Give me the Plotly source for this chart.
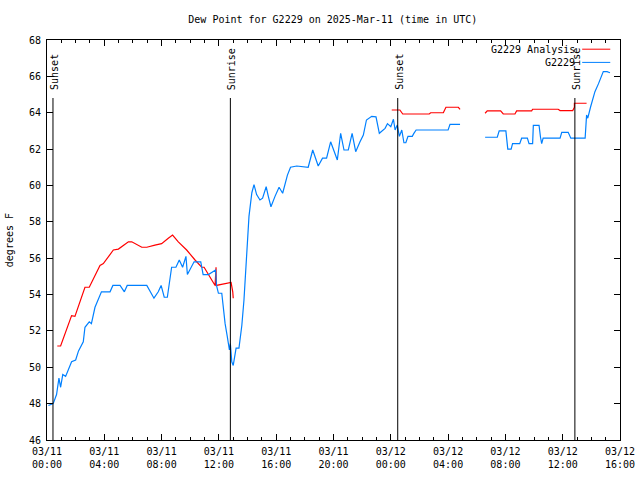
import plotly.graph_objects as go

# ---------------- data ----------------
obs_time = [
    "2025-03-11 00:06", "2025-03-11 00:26", "2025-03-11 00:40", "2025-03-11 00:50", "2025-03-11 00:57",
    "2025-03-11 01:06", "2025-03-11 01:18", "2025-03-11 01:43", "2025-03-11 02:00", "2025-03-11 02:12",
    "2025-03-11 02:32", "2025-03-11 02:39", "2025-03-11 02:57", "2025-03-11 03:06", "2025-03-11 03:21",
    "2025-03-11 03:48", "2025-03-11 04:24", "2025-03-11 04:36", "2025-03-11 05:06", "2025-03-11 05:24",
    "2025-03-11 05:36", "2025-03-11 06:58", "2025-03-11 07:28", "2025-03-11 07:46", "2025-03-11 07:58",
    "2025-03-11 08:11", "2025-03-11 08:24", "2025-03-11 08:42", "2025-03-11 09:00", "2025-03-11 09:14",
    "2025-03-11 09:28", "2025-03-11 09:42", "2025-03-11 09:48", "2025-03-11 10:16", "2025-03-11 10:44",
    "2025-03-11 10:54", "2025-03-11 11:16", "2025-03-11 11:30", "2025-03-11 11:46", "2025-03-11 11:50",
    "2025-03-11 11:58", "2025-03-11 12:12", "2025-03-11 12:18", "2025-03-11 12:26", "2025-03-11 12:35",
    "2025-03-11 12:44", "2025-03-11 12:48", "2025-03-11 12:54", "2025-03-11 13:00", "2025-03-11 13:12",
    "2025-03-11 13:24", "2025-03-11 13:36", "2025-03-11 13:45", "2025-03-11 13:56", "2025-03-11 14:06",
    "2025-03-11 14:18", "2025-03-11 14:27", "2025-03-11 14:38", "2025-03-11 14:52", "2025-03-11 15:03",
    "2025-03-11 15:18", "2025-03-11 15:27", "2025-03-11 15:38", "2025-03-11 15:55", "2025-03-11 16:12",
    "2025-03-11 16:27", "2025-03-11 16:47", "2025-03-11 17:00", "2025-03-11 17:26", "2025-03-11 18:14",
    "2025-03-11 18:33", "2025-03-11 18:56", "2025-03-11 19:14", "2025-03-11 19:31", "2025-03-11 19:48",
    "2025-03-11 20:16", "2025-03-11 20:30", "2025-03-11 20:44", "2025-03-11 21:02", "2025-03-11 21:18",
    "2025-03-11 21:33", "2025-03-11 21:51", "2025-03-11 22:05", "2025-03-11 22:18", "2025-03-11 22:40",
    "2025-03-11 22:58", "2025-03-11 23:12", "2025-03-11 23:36", "2025-03-11 23:46", "2025-03-12 00:00",
    "2025-03-12 00:11", "2025-03-12 00:18", "2025-03-12 00:27", "2025-03-12 00:36", "2025-03-12 00:46",
    "2025-03-12 00:55", "2025-03-12 01:03", "2025-03-12 01:12", "2025-03-12 01:30", "2025-03-12 01:36",
    "2025-03-12 01:46", "2025-03-12 04:00", "2025-03-12 04:08", "2025-03-12 04:50", "2025-03-12 05:40",
    "2025-03-12 06:35", "2025-03-12 07:26", "2025-03-12 07:34", "2025-03-12 08:02", "2025-03-12 08:10",
    "2025-03-12 08:24", "2025-03-12 08:30", "2025-03-12 09:00", "2025-03-12 09:08", "2025-03-12 09:32",
    "2025-03-12 09:39", "2025-03-12 09:54", "2025-03-12 09:57", "2025-03-12 10:21", "2025-03-12 10:27",
    "2025-03-12 10:32", "2025-03-12 10:38", "2025-03-12 11:49", "2025-03-12 11:56", "2025-03-12 12:23",
    "2025-03-12 12:34", "2025-03-12 13:34", "2025-03-12 13:40", "2025-03-12 13:45", "2025-03-12 13:57",
    "2025-03-12 14:15", "2025-03-12 14:30", "2025-03-12 14:50", "2025-03-12 15:06", "2025-03-12 15:18",
]
obs_dewpt = [
    47.9, 48.0, 48.5, 49.4, 48.9,
    49.6, 49.5, 50.3, 50.4, 50.9,
    51.4, 52.2, 52.5, 52.4, 53.3,
    54.15, 54.15, 54.5, 54.5, 54.15,
    54.5, 54.5, 53.8, 54.15, 54.5,
    53.85, 53.85, 55.5, 55.5, 55.9,
    55.5, 56.1, 55.1, 55.8, 55.8,
    55.1, 55.1, 55.2, 55.35, 54.5,
    54.07, 54.07, 53.3, 52.4, 51.7,
    50.95, 51.3, 50.3, 50.1, 51.05,
    51.05, 52.3, 53.7, 56.3, 58.3,
    59.6, 60.05, 59.5, 59.2, 59.3,
    59.93, 59.4, 58.83, 59.4, 59.9,
    59.57, 60.57, 61.0, 61.07, 61.0,
    61.95, 61.07, 61.5, 61.5, 62.4,
    61.4, 62.87, 61.95, 61.95, 62.87,
    61.86, 62.4, 62.77, 63.6, 63.8,
    63.77, 62.87, 63.14, 63.4, 63.23,
    63.64, 63.05, 63.32, 62.7, 63.05,
    62.35, 62.35, 62.7, 62.7, 62.85,
    63.05, 63.05, 63.36, 63.36, None,
    62.65, 62.65, 63.0, 63.0, 62.0,
    62.0, 62.3, 62.3, 62.6, 62.6,
    62.3, 62.3, 63.3, 63.3, 62.65,
    62.3, 62.6, 62.6, 62.92, 62.92,
    62.6, 62.6, 63.87, 63.7, 64.33,
    65.16, 65.6, 66.26, 66.26, 66.2,
]

ana_time = [
    "2025-03-11 00:43", "2025-03-11 00:57", "2025-03-11 01:43", "2025-03-11 01:57", "2025-03-11 02:39",
    "2025-03-11 02:57", "2025-03-11 03:42", "2025-03-11 03:56", "2025-03-11 04:38", "2025-03-11 04:59",
    "2025-03-11 05:41", "2025-03-11 05:55", "2025-03-11 06:37", "2025-03-11 06:58", "2025-03-11 07:32",
    "2025-03-11 08:00", "2025-03-11 08:28", "2025-03-11 08:46", "2025-03-11 09:10", "2025-03-11 09:45",
    "2025-03-11 10:20", "2025-03-11 10:48", "2025-03-11 10:58", "2025-03-11 11:16", "2025-03-11 11:30",
    "2025-03-11 11:44", "2025-03-11 11:48", "2025-03-11 11:49", "2025-03-11 12:05", "2025-03-11 12:30",
    "2025-03-11 12:44", "2025-03-11 12:51", "2025-03-11 12:58", "2025-03-11 13:00", "2025-03-11 18:00",
    "2025-03-12 00:04", "2025-03-12 00:38", "2025-03-12 00:50", "2025-03-12 02:41", "2025-03-12 02:47",
    "2025-03-12 03:40", "2025-03-12 03:51", "2025-03-12 04:43", "2025-03-12 04:50", "2025-03-12 05:40",
    "2025-03-12 06:35", "2025-03-12 06:44", "2025-03-12 07:40", "2025-03-12 07:51", "2025-03-12 08:40",
    "2025-03-12 08:47", "2025-03-12 09:50", "2025-03-12 09:54", "2025-03-12 11:41", "2025-03-12 11:49",
    "2025-03-12 12:42", "2025-03-12 12:49", "2025-03-12 12:49", "2025-03-12 13:40",
]
ana_dewpt = [
    51.17, 51.17, 52.84, 52.8, 54.4,
    54.4, 55.6, 55.7, 56.45, 56.5,
    56.9, 56.9, 56.6, 56.6, 56.72,
    56.8, 57.1, 57.27, 56.9, 56.45,
    55.9, 55.5, 55.5, 55.07, 54.8,
    54.5, 55.5, 54.5, 54.55, 54.6,
    54.67, 54.67, 54.15, 53.8, None,
    64.15, 64.15, 63.93, 63.93, 64.0,
    64.0, 64.3, 64.3, 64.19, None,
    63.97, 64.1, 64.1, 63.93, 63.93,
    64.1, 64.1, 64.19, 64.19, 64.12,
    64.12, 64.3, 64.52, 64.52,
]

sun_times = ["2025-03-11 00:25", "2025-03-11 12:48", "2025-03-12 00:29", "2025-03-12 12:51"]
sun_labels = ["Sunset", "Sunrise", "Sunset", "Sunrise"]

series_names = ["G2229 Analysis", "G2229"]
series_colors = ["#ff0000", "#0080ff"]

title_text = "Dew Point for G2229 on 2025-Mar-11 (time in UTC)"
y_label = "degrees F"
x_range = ["2025-03-11 00:00", "2025-03-12 16:00"]
y_range = [46, 68]

FONT = "DejaVu Sans Mono"

# ---------------- figure ----------------
fig = go.Figure()
fig.add_trace(go.Scatter(x=ana_time, y=ana_dewpt, mode="lines", name=series_names[0],
                         line=dict(color=series_colors[0], width=1.2), connectgaps=False,
                         showlegend=False))
fig.add_trace(go.Scatter(x=obs_time, y=obs_dewpt, mode="lines", name=series_names[1],
                         line=dict(color=series_colors[1], width=1.2), connectgaps=False,
                         showlegend=False))

for t, lab in zip(sun_times, sun_labels):
    fig.add_shape(type="line", xref="x", yref="paper", x0=t, x1=t, y0=0, y1=0.855,
                  line=dict(color="black", width=1))
    fig.add_annotation(x=t, xref="x", y=0.87, yref="paper", text=lab, textangle=-90,
                       showarrow=False, xanchor="center", yanchor="bottom", xshift=1,
                       font=dict(family=FONT, size=10, color="black"))

# manual gnuplot-style legend (text left, sample on right)
leg_y = [0.977, 0.944]
for name, col, yy in zip(series_names, series_colors, leg_y):
    fig.add_annotation(x=0.925, xref="paper", y=yy, yref="paper", text=name,
                       showarrow=False, xanchor="right", yanchor="middle",
                       font=dict(family=FONT, size=10, color="black"))
    fig.add_shape(type="line", xref="paper", yref="paper", x0=0.934, x1=0.983,
                  y0=yy, y1=yy, line=dict(color=col, width=1))

fig.add_annotation(x=-0.066, xref="paper", y=0.5, yref="paper", text=y_label,
                   textangle=-90, showarrow=False, xanchor="center", yanchor="middle",
                   font=dict(family=FONT, size=10, color="black"))

fig.update_layout(
    width=640, height=480,
    margin=dict(l=47, r=20, t=40, b=40, autoexpand=False),
    paper_bgcolor="white", plot_bgcolor="white",
    font=dict(family=FONT, size=10, color="black"),
    title=dict(text=title_text, x=0.52, xanchor="center", y=0.96, yanchor="middle",
               font=dict(family=FONT, size=10, color="black")),
    showlegend=False,
)
fig.update_xaxes(
    type="date", range=x_range, showgrid=False, zeroline=False, automargin=False,
    showline=True, linecolor="black", linewidth=1, mirror="ticks",
    ticks="inside", ticklen=6, tickcolor="black",
    dtick=4 * 3600 * 1000, tick0="2025-03-11 00:00",
    tickformat="%m/%d<br>%H:%M", ticklabelstandoff=2,
    minor=dict(ticks="inside", ticklen=3, dtick=3600 * 1000, tickcolor="black", showgrid=False),
)
fig.update_yaxes(
    range=y_range, showgrid=False, zeroline=False, automargin=False,
    showline=True, linecolor="black", linewidth=1, mirror="ticks",
    ticks="inside", ticklen=6, tickcolor="black", dtick=2, ticklabelstandoff=3,
)

# remove the default 8px page margin so the 640x480 figure fills the window exactly
fig.write_html("out.html", config={"displayModeBar": False, "staticPlot": True},
               post_script="document.body.style.margin='0';")
